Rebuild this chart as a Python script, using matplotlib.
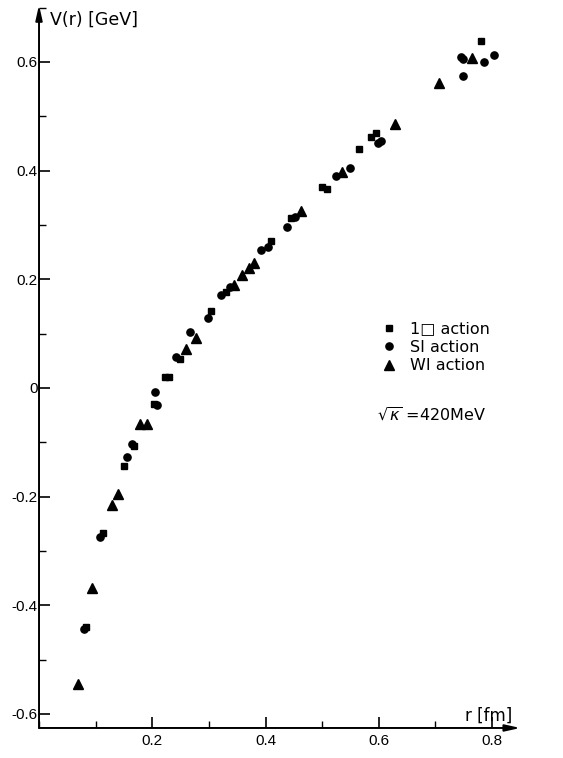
import numpy as np
import matplotlib.pyplot as plt
from matplotlib.ticker import MultipleLocator, FixedLocator, FixedFormatter

plt.rcParams['font.family'] = ['Liberation Sans', 'DejaVu Sans']

# 1-square action
r_sq = [0.083, 0.113, 0.150, 0.168, 0.203, 0.222, 0.229, 0.249, 0.304, 0.330,
        0.410, 0.445, 0.500, 0.508, 0.565, 0.586, 0.595, 0.780]
v_sq = [-0.440, -0.267, -0.144, -0.107, -0.029, 0.020, 0.020, 0.053, 0.142, 0.177,
        0.271, 0.313, 0.370, 0.366, 0.440, 0.462, 0.469, 0.639]

# SI action
r_si = [0.079, 0.108, 0.155, 0.164, 0.208, 0.205, 0.242, 0.267, 0.298, 0.321,
        0.337, 0.392, 0.404, 0.438, 0.452, 0.524, 0.549, 0.598, 0.604, 0.745,
        0.749, 0.749, 0.786, 0.803]
v_si = [-0.444, -0.274, -0.127, -0.103, -0.031, -0.007, 0.057, 0.103, 0.129, 0.171,
        0.186, 0.254, 0.260, 0.296, 0.315, 0.390, 0.405, 0.451, 0.455, 0.609,
        0.606, 0.574, 0.600, 0.613]

# WI action
r_wi = [0.069, 0.094, 0.129, 0.139, 0.178, 0.191, 0.259, 0.277, 0.344, 0.358,
        0.371, 0.380, 0.462, 0.535, 0.628, 0.706, 0.765]
v_wi = [-0.545, -0.368, -0.215, -0.195, -0.066, -0.066, 0.072, 0.092, 0.190, 0.208,
        0.221, 0.230, 0.326, 0.398, 0.486, 0.561, 0.607]

x_ticks = [0.2, 0.4, 0.6, 0.8]
x_labels = ['0.2', '0.4', '0.6', '0.8']
y_ticks = [-0.6, -0.4, -0.2, 0.0, 0.2, 0.4, 0.6]
y_labels = ['-0.6', '-0.4', '-0.2', '0', '0.2', '0.4', '0.6']

fig = plt.figure(figsize=(5.63, 7.58), dpi=100)
ax = fig.add_axes([0.0693, 0.0396, 0.855, 0.954])
ax.set_xlim(0, 0.85)
ax.set_ylim(-0.626, 0.705)

ax.plot(r_sq, v_sq, 's', color='black', markersize=4.5, label='1\u25a1 action')
ax.plot(r_si, v_si, 'o', color='black', markersize=5.2, label='SI action')
ax.plot(r_wi, v_wi, '^', color='black', markersize=6.5, label='WI action')

# axes drawn as arrows
for s in ax.spines.values():
    s.set_visible(False)
arrow = dict(arrowstyle='-|>,head_length=0.9,head_width=0.2', color='black',
             lw=1.4, shrinkA=0, shrinkB=0)
ax.annotate('', xy=(0, 1), xytext=(0, 0), xycoords='axes fraction', arrowprops=arrow)
ax.annotate('', xy=(1, 0), xytext=(0, 0), xycoords='axes fraction', arrowprops=arrow)

ax.xaxis.set_major_locator(FixedLocator(x_ticks))
ax.xaxis.set_major_formatter(FixedFormatter(x_labels))
ax.xaxis.set_minor_locator(MultipleLocator(0.1))
ax.yaxis.set_major_locator(FixedLocator(y_ticks))
ax.yaxis.set_major_formatter(FixedFormatter(y_labels))
ax.yaxis.set_minor_locator(MultipleLocator(0.1))
ax.tick_params(which='major', direction='in', length=8, width=1.2, labelsize=11)
ax.tick_params(which='minor', direction='in', length=5, width=1.0)
ax.tick_params(axis='y', which='major', pad=1)
ax.tick_params(axis='x', which='major', pad=4)

fig.text(50 / 563, 1 - 20 / 758, 'V(r) [GeV]', fontsize=12.5, va='center', ha='left',
         family='DejaVu Sans')
fig.text(489 / 563, 1 - 716 / 758, 'r [fm]', fontsize=12, va='center', ha='center',
         family='DejaVu Sans')

ax.legend(loc='upper left', bbox_to_anchor=(367 / 563, 1 - 307 / 758),
          bbox_transform=fig.transFigure, frameon=False,
          prop={'family': 'DejaVu Sans', 'size': 11.5},
          handlelength=1.0, handletextpad=0.8, labelspacing=0.22)

fig.text(377 / 563, 1 - 415 / 758, r'$\sqrt{\kappa}$ =420MeV', fontsize=11.5,
         va='center', ha='left', family='DejaVu Sans')

fig.savefig('out.png', dpi=100)
